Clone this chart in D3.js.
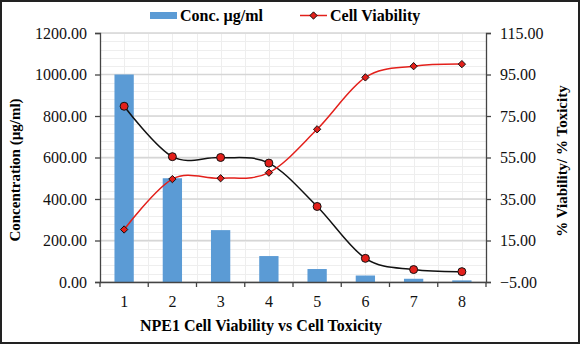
<!DOCTYPE html>
<html>
<head>
<meta charset="utf-8">
<script src="https://cdn.jsdelivr.net/npm/d3@7"></script>
<style>
  body { margin: 0; background: #fff; }
  svg { display: block; font-family: "Liberation Serif", "Times New Roman", serif; }
</style>
</head>
<body>
<div id="chart"></div>
<script>
var width = 582,
    height = 346,
    margin = { top: 33, right: 96, bottom: 64, left: 100 },
    innerWidth = width - margin.left - margin.right,
    innerHeight = height - margin.top - margin.bottom;

// dilution steps
var samples = ["1", "2", "3", "4", "5", "6", "7", "8"];
var concentration = [1000, 500, 250, 125, 62.5, 31.25, 15.6, 7.8];
var viability = [20.3, 44.6, 45.0, 47.7, 68.6, 93.6, 99.0, 100.0];
var toxicity = [79.7, 55.4, 55.0, 52.3, 31.4, 6.4, 1.0, 0.0];

var leftTicks = [0, 200, 400, 600, 800, 1000, 1200];
var rightTicks = [-5, 15, 35, 55, 75, 95, 115];

var blue = "#5b9bd5",
    red = "#e3201b",
    axisColor = "#444";

var svg = d3.select("#chart")
    .append("svg")
    .attr("width", width)
    .attr("height", height);

// outer frame
svg.append("rect")
    .attr("x", 1)
    .attr("y", 1)
    .attr("width", 578)
    .attr("height", 342)
    .attr("fill", "none")
    .attr("stroke", "#222")
    .attr("stroke-width", 2);

var g = svg.append("g")
    .attr("transform", `translate(${margin.left}, ${margin.top})`);

var x = d3.scaleBand()
    .domain(samples)
    .range([0, innerWidth]);

var yLeft = d3.scaleLinear()
    .domain([0, 1200])
    .range([innerHeight, 0]);

var yRight = d3.scaleLinear()
    .domain([-5, 115])
    .range([innerHeight, 0]);

// minor grid: horizontal every 40, vertical every half category
var minorY = d3.range(0, 1201, 40);
g.append("g")
    .selectAll("line")
    .data(minorY)
    .enter()
    .append("line")
    .attr("x1", 0)
    .attr("x2", innerWidth)
    .attr("y1", d => Math.round(yLeft(d)) + 0.5)
    .attr("y2", d => Math.round(yLeft(d)) + 0.5)
    .attr("stroke", "#eeeeee")
    .attr("stroke-width", 1);

var minorX = d3.range(0, samples.length * 2 + 1).map(i => i * x.bandwidth() / 2);
g.append("g")
    .selectAll("line")
    .data(minorX)
    .enter()
    .append("line")
    .attr("x1", d => Math.round(d) + 0.5)
    .attr("x2", d => Math.round(d) + 0.5)
    .attr("y1", 0)
    .attr("y2", innerHeight)
    .attr("stroke", "#eeeeee")
    .attr("stroke-width", 1);

// major grid
g.append("g")
    .selectAll("line")
    .data(leftTicks)
    .enter()
    .append("line")
    .attr("x1", 0)
    .attr("x2", innerWidth)
    .attr("y1", d => yLeft(d))
    .attr("y2", d => yLeft(d))
    .attr("stroke", "#d6d6d6")
    .attr("stroke-width", 1.5);

// concentration bars
var barW = x.bandwidth() * 0.4;
g.append("g")
    .selectAll("rect")
    .data(concentration)
    .enter()
    .append("rect")
    .attr("x", (d, i) => x(samples[i]) + (x.bandwidth() - barW) / 2)
    .attr("y", d => yLeft(d))
    .attr("width", barW)
    .attr("height", d => innerHeight - yLeft(d))
    .attr("fill", blue);

// axes
var fmt = d3.format(".2f");

var leftAxis = g.append("g")
    .call(d3.axisLeft(yLeft).tickValues(leftTicks).tickFormat(fmt).tickSize(5).tickPadding(8));

var rightAxis = g.append("g")
    .attr("transform", `translate(${innerWidth}, 0)`)
    .call(d3.axisRight(yRight).tickValues(rightTicks).tickFormat(fmt).tickSize(5).tickPadding(9));

var bottomAxis = g.append("g")
    .attr("transform", `translate(0, ${innerHeight})`)
    .call(d3.axisBottom(x).tickSize(0).tickPadding(14));

// category boundary ticks on x axis
bottomAxis.append("g")
    .selectAll("line")
    .data(d3.range(0, samples.length + 1))
    .enter()
    .append("line")
    .attr("x1", i => i * x.bandwidth())
    .attr("x2", i => i * x.bandwidth())
    .attr("y1", 0)
    .attr("y2", 5)
    .attr("stroke", axisColor)
    .attr("stroke-width", 1.3);

[leftAxis, rightAxis, bottomAxis].forEach(function (a) {
    a.attr("font-family", null).attr("font-size", null);
    a.select(".domain").attr("stroke", axisColor).attr("stroke-width", 1.3);
    a.selectAll(".tick line").attr("stroke", axisColor).attr("stroke-width", 1.3);
    a.selectAll("text")
        .style("font-size", "16px")
        .attr("fill", "#111");
});

// smooth lines
var cx = (d, i) => x(samples[i]) + x.bandwidth() / 2;

var smoothLine = d3.line()
    .x(cx)
    .y(d => yRight(d))
    .curve(d3.curveCardinal.tension(0));

g.append("path")
    .datum(toxicity)
    .attr("d", smoothLine)
    .attr("fill", "none")
    .attr("stroke", "#111")
    .attr("stroke-width", 1.5);

g.append("path")
    .datum(viability)
    .attr("d", smoothLine)
    .attr("fill", "none")
    .attr("stroke", red)
    .attr("stroke-width", 1.5);

g.append("g")
    .selectAll("circle")
    .data(toxicity)
    .enter()
    .append("circle")
    .attr("cx", cx)
    .attr("cy", d => yRight(d))
    .attr("r", 4)
    .attr("fill", red)
    .attr("stroke", "#111")
    .attr("stroke-width", 1);

var diamond = d3.symbol().type(d3.symbolDiamond2).size(34);
g.append("g")
    .selectAll("path")
    .data(viability)
    .enter()
    .append("path")
    .attr("d", diamond)
    .attr("transform", (d, i) => `translate(${cx(d, i)}, ${yRight(d)})`)
    .attr("fill", red)
    .attr("stroke", "#111")
    .attr("stroke-width", 1);

// axis titles
svg.append("text")
    .attr("transform", "translate(20, 170) rotate(-90)")
    .attr("text-anchor", "middle")
    .style("font-size", "15px")
    .style("font-weight", "bold")
    .text("Concentration (µg/ml)");

svg.append("text")
    .attr("transform", "translate(567, 161) rotate(-90)")
    .attr("text-anchor", "middle")
    .style("font-size", "15px")
    .style("font-weight", "bold")
    .text("% Viability/ % Toxicity");

svg.append("text")
    .attr("x", 261)
    .attr("y", 331)
    .attr("text-anchor", "middle")
    .style("font-size", "16px")
    .style("font-weight", "bold")
    .text("NPE1 Cell Viability vs Cell Toxicity");

// legend
var legend = svg.append("g");
legend.append("rect")
    .attr("x", 150)
    .attr("y", 12)
    .attr("width", 27)
    .attr("height", 7)
    .attr("fill", blue);
legend.append("text")
    .attr("x", 180)
    .attr("y", 21)
    .style("font-size", "16px")
    .style("font-weight", "bold")
    .text("Conc. µg/ml");
legend.append("line")
    .attr("x1", 300)
    .attr("x2", 327)
    .attr("y1", 15.5)
    .attr("y2", 15.5)
    .attr("stroke", red)
    .attr("stroke-width", 1.5);
legend.append("path")
    .attr("d", diamond)
    .attr("transform", "translate(313.5, 15.5)")
    .attr("fill", red)
    .attr("stroke", "#111")
    .attr("stroke-width", 1);
legend.append("text")
    .attr("x", 330)
    .attr("y", 21)
    .style("font-size", "16px")
    .style("font-weight", "bold")
    .text("Cell Viability");
</script>
</body>
</html>
